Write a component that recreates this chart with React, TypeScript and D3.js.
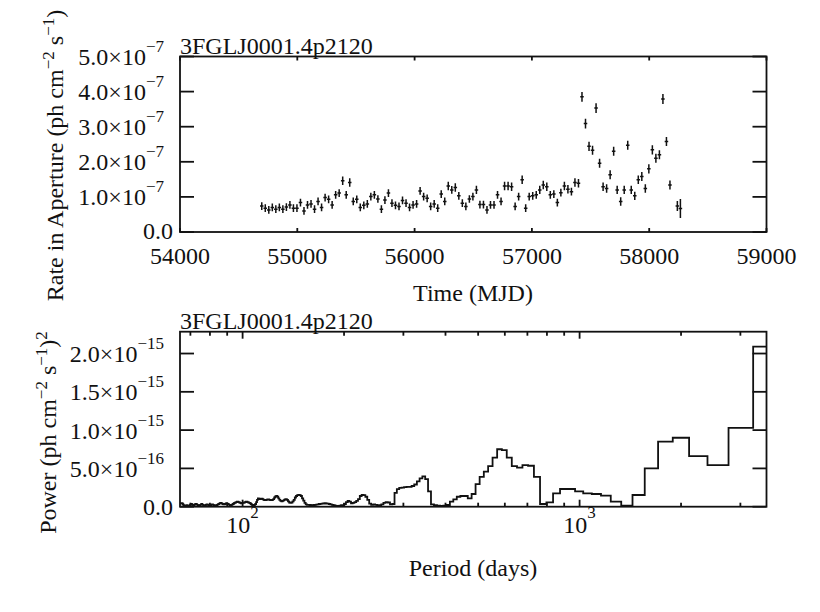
import React from "react";
import * as d3 from "d3";

// ---------------- data ----------------
const SOURCE = "3FGLJ0001.4p2120";

// light curve: 30-day bins (MJD centres), rate in units of 1e-7 ph cm^-2 s^-1
const mjd = [
  54697, 54727, 54757, 54787, 54817, 54847, 54877, 54907, 54937, 54967,
  54997, 55027, 55057, 55087, 55117, 55147, 55177, 55207, 55237, 55267,
  55297, 55327, 55357, 55387, 55417, 55447, 55477, 55507, 55537, 55567,
  55597, 55627, 55657, 55687, 55717, 55747, 55777, 55807, 55837, 55867,
  55897, 55927, 55957, 55987, 56017, 56047, 56077, 56107, 56137, 56167,
  56197, 56227, 56257, 56287, 56317, 56347, 56377, 56407, 56437, 56467,
  56497, 56527, 56557, 56587, 56617, 56647, 56677, 56707, 56737, 56767,
  56797, 56827, 56857, 56887, 56917, 56947, 56977, 57007, 57037, 57067,
  57097, 57127, 57157, 57187, 57217, 57247, 57277, 57307, 57337, 57367,
  57397, 57427, 57457, 57487, 57517, 57547, 57577, 57607, 57637, 57667,
  57697, 57727, 57757, 57787, 57817, 57847, 57877, 57907, 57937, 57967,
  57997, 58027, 58057, 58087, 58117, 58147, 58177, 58240, 58266,
];
const rate = [
  0.74, 0.68, 0.63, 0.7, 0.65, 0.7, 0.65, 0.71, 0.77, 0.68,
  0.68, 0.84, 0.6, 0.77, 0.8, 0.65, 0.87, 0.7, 0.98, 0.93,
  0.77, 1.06, 1.11, 1.46, 1.06, 1.41, 0.87, 0.93, 0.7, 0.76,
  0.8, 1.01, 1.06, 0.94, 0.65, 0.91, 1.11, 0.82, 0.76, 0.73,
  0.9, 0.82, 0.7, 0.77, 0.8, 1.17, 1.01, 0.96, 0.73, 0.8,
  0.68, 1.08, 0.87, 1.31, 1.2, 1.27, 1.03, 0.82, 0.73, 0.94,
  1.01, 1.2, 0.78, 0.78, 0.63, 0.77, 0.77, 1.06, 0.87, 1.31,
  1.31, 1.29, 0.73, 1.01, 1.49, 0.68, 1.01, 1.03, 1.06, 1.2,
  1.34, 1.29, 1.06, 1.08, 0.84, 1.12, 1.31, 1.22, 1.15, 1.41,
  1.39, 3.85, 3.09, 2.44, 2.33, 3.53, 1.96, 1.29, 1.24, 1.63,
  2.3, 1.2, 0.87, 1.2, 2.47, 1.2, 1.03, 1.49, 1.58, 1.24,
  1.8, 2.34, 2.1, 2.2, 3.79, 2.58, 1.34, 0.74, 0.67,
];
const rateErr = [
  0.11, 0.11, 0.11, 0.11, 0.11, 0.11, 0.11, 0.11, 0.11, 0.11,
  0.11, 0.11, 0.11, 0.11, 0.11, 0.11, 0.11, 0.11, 0.11, 0.11,
  0.11, 0.11, 0.11, 0.12, 0.11, 0.12, 0.11, 0.11, 0.11, 0.11,
  0.11, 0.11, 0.11, 0.11, 0.11, 0.11, 0.11, 0.11, 0.11, 0.11,
  0.11, 0.11, 0.11, 0.11, 0.11, 0.11, 0.11, 0.11, 0.11, 0.11,
  0.11, 0.11, 0.11, 0.12, 0.11, 0.12, 0.11, 0.11, 0.11, 0.11,
  0.11, 0.12, 0.11, 0.11, 0.11, 0.11, 0.11, 0.11, 0.11, 0.12,
  0.12, 0.12, 0.11, 0.11, 0.12, 0.11, 0.11, 0.11, 0.11, 0.12,
  0.12, 0.12, 0.11, 0.11, 0.11, 0.11, 0.12, 0.12, 0.11, 0.12,
  0.12, 0.14, 0.14, 0.13, 0.13, 0.14, 0.13, 0.12, 0.12, 0.13,
  0.13, 0.12, 0.12, 0.12, 0.13, 0.12, 0.12, 0.12, 0.13, 0.12,
  0.13, 0.13, 0.13, 0.13, 0.14, 0.13, 0.13, 0.14, 0.27,
];
const BIN_HALF_WIDTH = 15; // days
const rateTicks = [0, 1, 2, 3, 4, 5]; // x 1e-7
const mjdTicks = [54000, 55000, 56000, 57000, 58000, 59000];

// periodogram: harmonics k = 5..275 of 1/(5*SPAN), power in units of 1e-16
const SPAN = 3586; // days
const OVERSAMPLE = 5;
const FIRST_HARMONIC = 5;
const power = [
  20.9, 10.3, 5.44, 6.6, 9.0, 8.5, 5.0, 1.53, 0.13, 0.65,
  1.44, 1.66, 1.75, 2.0, 2.31, 2.31, 1.75, 0.57, 0.35, 3.9,
  5.35, 5.44, 5.1, 5.3, 6.4, 7.4, 7.5, 6.4, 5.3, 4.57,
  3.9, 2.96, 1.66, 1.1, 1.4, 1.4, 1.3, 0.96, 0.66, 0.22,
  0.15, 0.1, 0.15, 0.2, 0.3, 2.0, 3.6, 3.95, 3.7, 3.3,
  2.9, 2.7, 2.6, 2.6, 2.55, 2.5, 2.45, 2.3, 1.8, 0.35,
  0.3, 0.55, 0.6, 0.5, 0.3, 0.2, 0.2, 0.25, 0.3, 0.25,
  0.4, 0.9, 1.3, 1.5, 1.55, 1.4, 1.0, 0.75, 0.6, 0.5,
  0.45, 0.65, 0.75, 0.6, 0.35, 0.2, 0.2, 0.15, 0.12, 0.12,
  0.15, 0.2, 0.25, 0.3, 0.35, 0.4, 0.42, 0.45, 0.42, 0.4,
  0.38, 0.35, 0.3, 0.28, 0.25, 0.22, 0.2, 0.2, 0.22, 0.25,
  0.25, 0.3, 0.5, 0.8, 1.1, 1.4, 1.5, 1.53, 1.5, 1.4,
  1.2, 0.9, 0.7, 0.55, 0.5, 0.55, 0.7, 0.9, 1.0, 0.95,
  0.85, 0.75, 0.7, 0.75, 0.9, 1.1, 1.3, 1.4, 1.35, 1.2,
  1.0, 0.9, 0.85, 0.85, 0.9, 0.95, 0.95, 0.9, 0.85, 0.85,
  0.9, 1.0, 1.05, 1.05, 1.0, 1.05, 1.1, 0.9, 0.6, 0.35,
  0.25, 0.2, 0.2, 0.25, 0.35, 0.45, 0.5, 0.55, 0.6, 0.65,
  0.65, 0.6, 0.55, 0.5, 0.5, 0.45, 0.45, 0.5, 0.55, 0.6,
  0.65, 0.65, 0.6, 0.55, 0.5, 0.45, 0.35, 0.3, 0.25, 0.2,
  0.2, 0.25, 0.3, 0.35, 0.4, 0.45, 0.4, 0.35, 0.3, 0.3,
  0.35, 0.4, 0.45, 0.5, 0.45, 0.4, 0.35, 0.3, 0.25, 0.2,
  0.2, 0.15, 0.15, 0.2, 0.25, 0.3, 0.3, 0.25, 0.2, 0.15,
  0.15, 0.2, 0.25, 0.3, 0.3, 0.25, 0.2, 0.15, 0.15, 0.2,
  0.25, 0.3, 0.35, 0.3, 0.25, 0.2, 0.15, 0.15, 0.2, 0.25,
  0.3, 0.35, 0.35, 0.3, 0.25, 0.2, 0.2, 0.25, 0.3, 0.35,
  0.3, 0.25, 0.2, 0.15, 0.12, 0.12, 0.15, 0.2, 0.2, 0.15,
  0.12, 0.12, 0.15, 0.2, 0.3, 0.4, 0.45, 0.45, 0.4, 0.4, 0.45,
];
const powerTicks = [0, 5, 10, 15, 20]; // x 1e-16
const POWER_MAX = 22.85;
const periodMajorTicks = [100, 1000];
const periodMinorTicks = [70, 80, 90, 200, 300, 400, 500, 600, 700, 800, 900, 2000, 3000];

// ---------------- layout ----------------
const W = 820;
const H = 612;
const FONT = "'Liberation Serif', 'Times New Roman', Times, serif";
const INK = "#111";
const L = 180;
const R = 766.5;
const top1 = { t: 56.5, b: 232 };
const top2 = { t: 331.7, b: 506.7 };

const xTime = d3.scaleLinear().domain([54000, 59000]).range([L, R]);
const yRate = d3.scaleLinear().domain([0, 5]).range([top1.b, top1.t]);

const periods = power.map((_, i) => (SPAN * OVERSAMPLE) / (FIRST_HARMONIC + i));
const xPer = d3
  .scaleLog()
  .domain([d3.min(periods) as number, d3.max(periods) as number])
  .range([L, R]);
const yPow = d3.scaleLinear().domain([0, POWER_MAX]).range([top2.b, top2.t]);

function sci(v: number) {
  if (v === 0) return { mant: "0.0", exp: "" };
  const e = Math.floor(Math.log10(v) + 1e-9);
  const m = v / Math.pow(10, e);
  return { mant: m.toFixed(1) + "\u00d710", exp: "\u2212" + Math.abs(e) };
}

function YLabel({ value, y, zeroDy = 8.5 }: { value: number; y: number; zeroDy?: number }) {
  const p = sci(value);
  if (!p.exp) {
    return (
      <text x={173} y={y + zeroDy} textAnchor="end" fontSize={24}>
        {p.mant}
      </text>
    );
  }
  return (
    <text x={164} y={y + 8.5} textAnchor="end" fontSize={24}>
      {p.mant}
      <tspan dy={-13} fontSize={17}>
        {p.exp}
      </tspan>
    </text>
  );
}

export default function App() {
  const order = d3.range(power.length).reverse();
  const stepPath = d3
    .line<number>()
    .x((i) => xPer(periods[i]))
    .y((i) => yPow(power[i]))
    .curve(d3.curveStep)(order);

  const sw = 1.8;

  return (
    <svg
      width={W}
      height={H}
      viewBox={`0 0 ${W} ${H}`}
      style={{ position: "absolute", left: 0, top: 0, fontFamily: FONT }}
      fill={INK}
    >
      <rect x={0} y={0} width={W} height={H} fill="#ffffff" />
      <defs>
        <clipPath id="clipPow">
          <rect x={L} y={top2.t} width={R - L} height={top2.b - top2.t} />
        </clipPath>
      </defs>

      {/* ---------- top panel ---------- */}
      <text x={L} y={top1.t - 3} fontSize={24}>
        {SOURCE}
      </text>
      {rateTicks.map((t) => (
        <g key={"rt" + t}>
          <line x1={L} x2={L + 14} y1={yRate(t)} y2={yRate(t)} stroke={INK} strokeWidth={sw} />
          <line x1={R} x2={R - 14} y1={yRate(t)} y2={yRate(t)} stroke={INK} strokeWidth={sw} />
          <YLabel value={t * 1e-7} y={yRate(t)} zeroDy={6.5} />
        </g>
      ))}
      {mjdTicks.map((t) => (
        <g key={"mt" + t}>
          <line x1={xTime(t)} x2={xTime(t)} y1={top1.b} y2={top1.b - 4} stroke={INK} strokeWidth={sw} />
          <line x1={xTime(t)} x2={xTime(t)} y1={top1.t} y2={top1.t + 4} stroke={INK} strokeWidth={sw} />
          <text x={xTime(t)} y={264} textAnchor="middle" fontSize={24}>
            {t}
          </text>
        </g>
      ))}
      <rect x={L} y={top1.t} width={R - L} height={top1.b - top1.t} fill="none" stroke={INK} strokeWidth={sw} />
      <g stroke={INK} strokeWidth={1.5} fill="none">
        {rate.map((r, i) => (
          <path
            key={"p" + i}
            d={`M${xTime(mjd[i])},${yRate(r - rateErr[i])}V${yRate(r + rateErr[i])}M${xTime(
              mjd[i] - BIN_HALF_WIDTH
            )},${yRate(r)}H${xTime(mjd[i] + BIN_HALF_WIDTH)}`}
          />
        ))}
      </g>
      <text x={473} y={301} textAnchor="middle" fontSize={24}>
        Time (MJD)
      </text>
      <text transform="translate(62.5,155.5) rotate(-90)" textAnchor="middle" fontSize={24}>
        Rate in Aperture (ph cm
        <tspan dy={-9} fontSize={17}>
          {"\u22122"}
        </tspan>
        <tspan dy={9}> s</tspan>
        <tspan dy={-9} fontSize={17}>
          {"\u22121"}
        </tspan>
        <tspan dy={9}>)</tspan>
      </text>

      {/* ---------- bottom panel ---------- */}
      <text x={L} y={top2.t - 2.5} fontSize={24}>
        {SOURCE}
      </text>
      {powerTicks.map((t) => (
        <g key={"pt" + t}>
          <line x1={L} x2={L + 14} y1={yPow(t)} y2={yPow(t)} stroke={INK} strokeWidth={sw} />
          <line x1={R} x2={R - 14} y1={yPow(t)} y2={yPow(t)} stroke={INK} strokeWidth={sw} />
          <YLabel value={t * 1e-16} y={yPow(t)} />
        </g>
      ))}
      {periodMajorTicks.map((t) => (
        <g key={"pm" + t}>
          <line x1={xPer(t)} x2={xPer(t)} y1={top2.b} y2={top2.b - 7} stroke={INK} strokeWidth={sw} />
          <line x1={xPer(t)} x2={xPer(t)} y1={top2.t} y2={top2.t + 7} stroke={INK} strokeWidth={sw} />
          <text x={xPer(t)} y={533} textAnchor="middle" fontSize={24}>
            10
            <tspan dy={-15} fontSize={17}>
              {String(Math.round(Math.log10(t)))}
            </tspan>
          </text>
        </g>
      ))}
      {periodMinorTicks.map((t) => (
        <g key={"pn" + t}>
          <line x1={xPer(t)} x2={xPer(t)} y1={top2.b} y2={top2.b - 4} stroke={INK} strokeWidth={sw} />
          <line x1={xPer(t)} x2={xPer(t)} y1={top2.t} y2={top2.t + 4} stroke={INK} strokeWidth={sw} />
        </g>
      ))}
      <path d={stepPath || ""} fill="none" stroke={INK} strokeWidth={1.8} clipPath="url(#clipPow)" />
      <rect x={L} y={top2.t} width={R - L} height={top2.b - top2.t} fill="none" stroke={INK} strokeWidth={sw} />
      <text x={473} y={576} textAnchor="middle" fontSize={24}>
        Period (days)
      </text>
      <text transform="translate(56,432.5) rotate(-90)" textAnchor="middle" fontSize={24}>
        Power (ph cm
        <tspan dy={-9} fontSize={17}>
          {"\u22122"}
        </tspan>
        <tspan dy={9}> s</tspan>
        <tspan dy={-9} fontSize={17}>
          {"\u22121"}
        </tspan>
        <tspan dy={9}>)</tspan>
        <tspan dy={-9} fontSize={17}>
          2
        </tspan>
      </text>
    </svg>
  );
}
